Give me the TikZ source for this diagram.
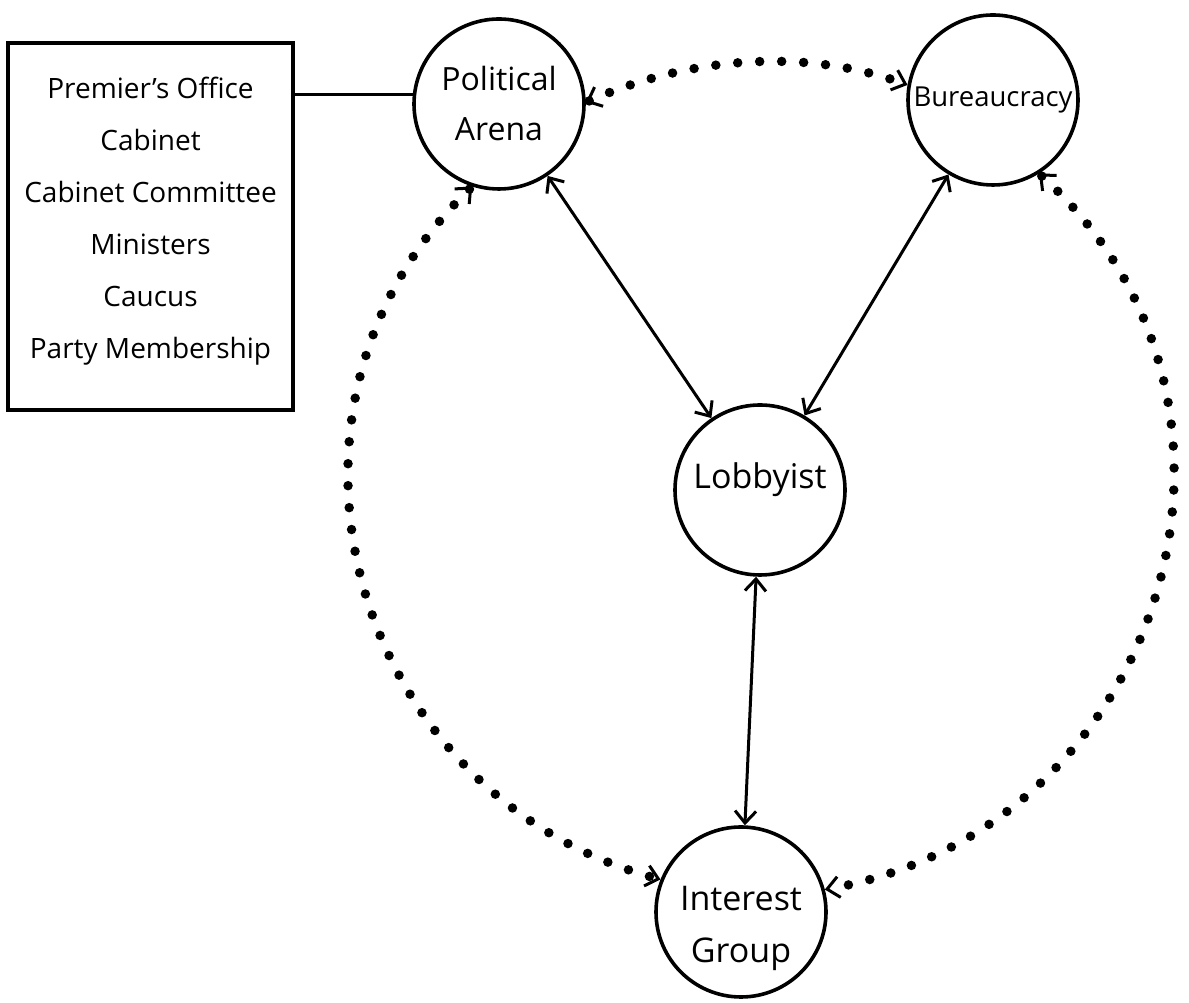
\documentclass[tikz,border=0pt]{standalone}
\usepackage{fontspec}
\setmainfont{Open Sans}
\usetikzlibrary{arrows.meta}
\begin{document}
\begin{tikzpicture}[x=1pt,y=1pt,
  barb/.tip={Straight Barb[length=12pt,width=21pt,line width=3pt]},
  actor/.style={circle, draw, line width=3.6pt, minimum size=170pt, inner sep=0pt,
    align=center, font=\fontsize{32}{50}\selectfont},
  listbox/.style={rectangle, draw, line width=3.6pt, minimum width=285pt,
    minimum height=367pt, inner sep=0pt, align=center,
    font=\fontsize{28}{52}\selectfont},
  link/.style={line width=3pt, barb-barb},
  dotlink/.style={line width=9.5pt, line cap=round, dash pattern=on 0pt off 22pt, barb-barb},
]
\useasboundingbox (0,0) rectangle (1189,1003);
\fill[white] (0,0) rectangle (1189,1003);

% the four actors
\node[actor] (pa)  at (499,899) {Political\\Arena};
\node[actor, font=\fontsize{27.5}{50}\selectfont] (bu) at (993,903) {Bureaucracy};
\node[actor, font=\fontsize{34}{50}\selectfont] (lob) at (760,513)
  {\raisebox{10pt}[\height][\depth]{Lobbyist}};
\node[actor, font=\fontsize{34}{52}\selectfont] (ig) at (741,91)
  {\raisebox{-14pt}[\height][\depth]{\begin{tabular}{@{}c@{}}Interest\\Group\end{tabular}}};

% members of the political arena
\node[listbox] (box) at (150.5,776.5)
  {\raisebox{8pt}[\height][\depth]{\begin{tabular}{@{}c@{}}Premier's Office\\Cabinet\\Cabinet Committee\\Ministers\\Caucus\\Party Membership\end{tabular}}};
\draw[line width=3pt] (pa.174) -- (pa.174 -| box.east);

% direct two-way links
\draw[link] (pa) -- (lob);
\draw[link] (bu) -- (lob);
\draw[link] (lob) -- (ig);

% indirect two-way links along the outer ring
\draw[dotlink] (pa.1) to[out=24, in=160, looseness=0.88] (bu.170);
\draw[dotlink] (pa.252) to[out=224, in=165, looseness=1.14] (ig.158);
\draw[dotlink] (bu.302) to[out=-42, in=10, looseness=1.18] (ig.15);
\end{tikzpicture}
\end{document}
